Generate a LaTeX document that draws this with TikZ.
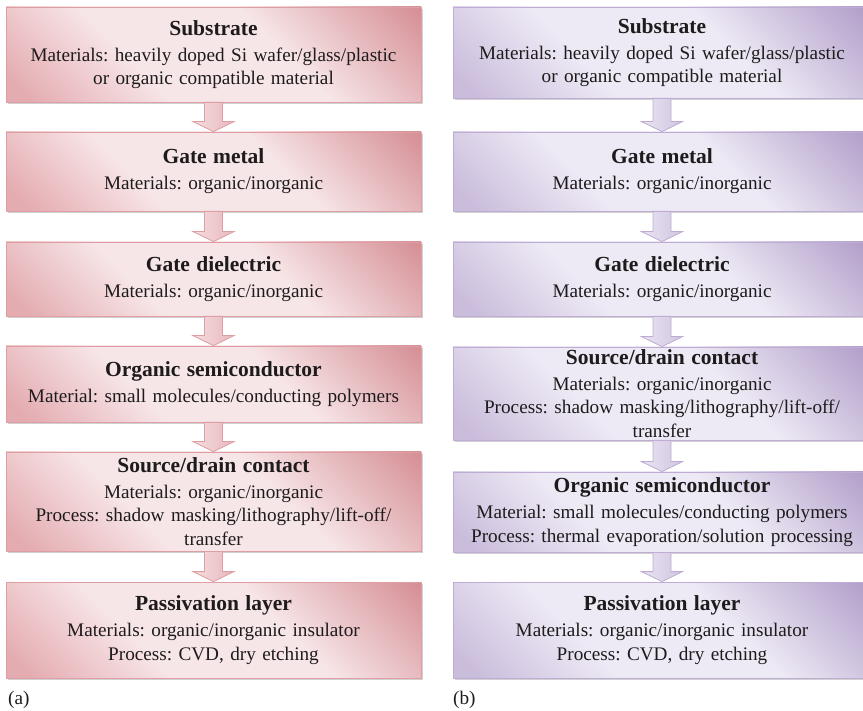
\documentclass[tikz,border=0pt]{standalone}
\usepackage{fontspec}
\setmainfont{Liberation Serif}
\usetikzlibrary{calc,shadows}
\frenchspacing

\definecolor{pkdark}{RGB}{212,140,146}
\definecolor{pkmid}{RGB}{228,172,177}
\definecolor{pklight}{RGB}{247,230,232}
\definecolor{pkedge}{RGB}{222,158,163}
\definecolor{ppdark}{RGB}{174,154,199}
\definecolor{ppmid}{RGB}{202,189,220}
\definecolor{pplight}{RGB}{238,234,245}
\definecolor{ppedge}{RGB}{190,172,212}
\definecolor{txt}{RGB}{30,27,28}

% diagonal fills: darker towards the lower-left and upper-right corners
\pgfdeclarehorizontalshading{pinkdiag}{100bp}{color(0bp)=(pkmid); color(18bp)=(pkmid); color(38bp)=(pklight); color(60bp)=(pklight); color(86bp)=(pkdark); color(100bp)=(pkdark)}
\pgfdeclarehorizontalshading{purplediag}{100bp}{color(0bp)=(ppmid); color(18bp)=(ppmid); color(38bp)=(pplight); color(60bp)=(pplight); color(86bp)=(ppdark); color(100bp)=(ppdark)}

\newcommand\boxtitle[1]{{\fontsize{21.5}{25}\selectfont\bfseries #1}\\[2.5pt]}
\newcommand\flowarrow[3]{%
  \path[#1] ($(#2.south)+(-9,0)$) -- ($(#3.north)+(-9,10)$) -- ($(#3.north)+(-20.5,10)$)
    -- (#3.north) -- ($(#3.north)+(20.5,10)$) -- ($(#3.north)+(9,10)$)
    -- ($(#2.south)+(9,0)$) -- cycle;}

\tikzset{
  basebox/.style={line width=0.8pt, shading angle=45, inner sep=0pt, align=center,
    text=txt, font=\fontsize{19.2}{23.5}\selectfont,
    drop shadow={shadow xshift=2pt, shadow yshift=-2pt, fill=black!45, opacity=.4}},
  pinkbox/.style={basebox, draw=pkedge, shading=pinkdiag, minimum width=415pt, text width=405pt},
  purplebox/.style={basebox, draw=ppedge, shading=purplediag, minimum width=418pt, text width=405pt},
  pinkarrow/.style={draw=pkedge, line width=0.8pt, left color=pklight!85!pkmid, middle color=pklight!50!white, right color=pkmid!80!pklight},
  purplearrow/.style={draw=ppedge, line width=0.8pt, left color=pplight!85!ppmid, middle color=pplight!50!white, right color=ppmid!80!pplight},
  panel/.style={anchor=west, inner sep=0pt, text=txt, font=\fontsize{19.2}{23.5}\selectfont}
}

\begin{document}
\begin{tikzpicture}[x=1pt,y=1pt]
\useasboundingbox (0,0) rectangle (863,-711);
\clip (0,0) rectangle (863,-711);

% ---- (a) process flow ----
\node[pinkbox, minimum height=95pt] (L1) at (213.5,-54.5)
  {\boxtitle{Substrate}Materials: heavily doped Si wafer/glass/plastic\\or organic compatible material};
\node[pinkbox, minimum height=79pt] (L2) at (213.5,-171.5)
  {\boxtitle{Gate metal}Materials: organic/inorganic};
\node[pinkbox, minimum height=74pt] (L3) at (213.5,-279)
  {\boxtitle{Gate dielectric}Materials: organic/inorganic};
\node[pinkbox, minimum height=76pt] (L4) at (213.5,-384)
  {\boxtitle{Organic semiconductor}Material: small molecules/conducting polymers};
\node[pinkbox, minimum height=99pt] (L5) at (213.5,-501.5)
  {\boxtitle{Source/drain contact}Materials: organic/inorganic\\Process: shadow masking/lithography/lift-off/\\transfer};
\node[pinkbox, minimum height=96pt] (L6) at (213.5,-630)
  {\boxtitle{Passivation layer}Materials: organic/inorganic insulator\\Process: CVD, dry etching};

\flowarrow{pinkarrow}{L1}{L2}
\flowarrow{pinkarrow}{L2}{L3}
\flowarrow{pinkarrow}{L3}{L4}
\flowarrow{pinkarrow}{L4}{L5}
\flowarrow{pinkarrow}{L5}{L6}

\node[panel] (pa) at (8,-700) {(a)};

% ---- (b) process flow ----
\node[purplebox, minimum height=91pt] (R1) at (662,-52.5)
  {\boxtitle{Substrate}Materials: heavily doped Si wafer/glass/plastic\\or organic compatible material};
\node[purplebox, minimum height=79pt] (R2) at (662,-171.5)
  {\boxtitle{Gate metal}Materials: organic/inorganic};
\node[purplebox, minimum height=74pt] (R3) at (662,-279)
  {\boxtitle{Gate dielectric}Materials: organic/inorganic};
\node[purplebox, minimum height=93pt] (R4) at (662,-393.5)
  {\boxtitle{Source/drain contact}Materials: organic/inorganic\\Process: shadow masking/lithography/lift-off/\\transfer};
\node[purplebox, minimum height=80pt] (R5) at (662,-512)
  {\boxtitle{Organic semiconductor}Material: small molecules/conducting polymers\\Process: thermal evaporation/solution processing};
\node[purplebox, minimum height=96pt] (R6) at (662,-630)
  {\boxtitle{Passivation layer}Materials: organic/inorganic insulator\\Process: CVD, dry etching};

\flowarrow{purplearrow}{R1}{R2}
\flowarrow{purplearrow}{R2}{R3}
\flowarrow{purplearrow}{R3}{R4}
\flowarrow{purplearrow}{R4}{R5}
\flowarrow{purplearrow}{R5}{R6}

\node[panel] (pb) at (453,-700) {(b)};
\end{tikzpicture}
\end{document}
